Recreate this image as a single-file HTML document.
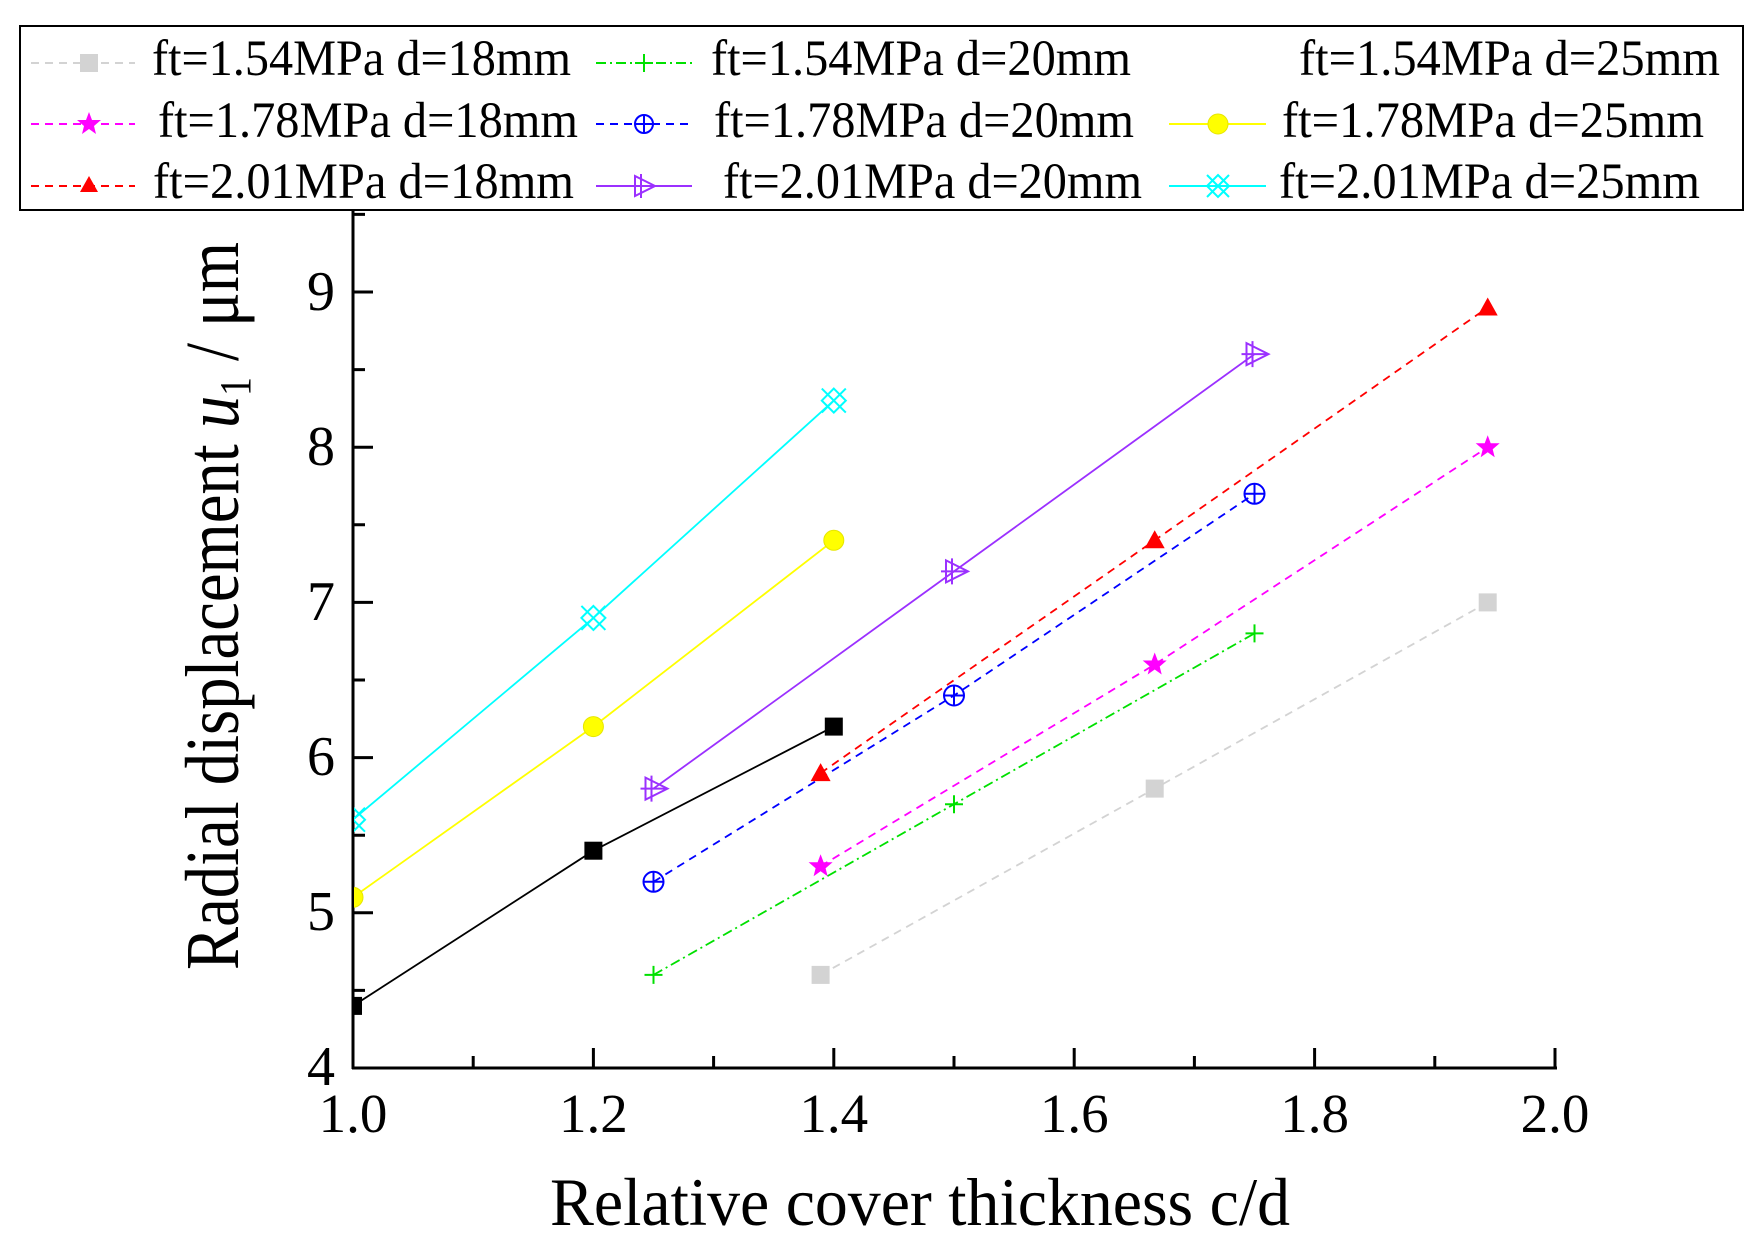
<!DOCTYPE html>
<html><head><meta charset="utf-8"><style>html,body{margin:0;padding:0;background:#fff}svg{display:block}text{font-family:"Liberation Serif",serif;fill:#000}</style></head><body>
<svg width="1764" height="1256" viewBox="0 0 1764 1256" xmlns="http://www.w3.org/2000/svg">
<defs>
<clipPath id="pc"><rect x="354" y="200" width="1300" height="880"/></clipPath>
<g id="msq"><rect x="-9" y="-9" width="18" height="18"/></g>
</defs>
<rect x="20" y="26" width="1723" height="184" fill="#fff" stroke="#000" stroke-width="2"/>
<g font-size="51">
<text x="152" y="75" textLength="419" lengthAdjust="spacingAndGlyphs">ft=1.54MPa d=18mm</text>
<text x="158" y="137" textLength="420" lengthAdjust="spacingAndGlyphs">ft=1.78MPa d=18mm</text>
<text x="153" y="198" textLength="421" lengthAdjust="spacingAndGlyphs">ft=2.01MPa d=18mm</text>
<text x="711" y="75" textLength="420" lengthAdjust="spacingAndGlyphs">ft=1.54MPa d=20mm</text>
<text x="714" y="137" textLength="420" lengthAdjust="spacingAndGlyphs">ft=1.78MPa d=20mm</text>
<text x="723" y="198" textLength="419" lengthAdjust="spacingAndGlyphs">ft=2.01MPa d=20mm</text>
<text x="1299" y="75" textLength="421" lengthAdjust="spacingAndGlyphs">ft=1.54MPa d=25mm</text>
<text x="1282" y="137" textLength="422" lengthAdjust="spacingAndGlyphs">ft=1.78MPa d=25mm</text>
<text x="1279" y="198" textLength="421" lengthAdjust="spacingAndGlyphs">ft=2.01MPa d=25mm</text>
</g>
<g stroke-width="2" fill="none">
<line x1="31" y1="63" x2="135" y2="63" stroke="#d3d3d3" stroke-dasharray="8,6"/>
<line x1="31" y1="124" x2="135" y2="124" stroke="#ff00ff" stroke-dasharray="8,6"/>
<line x1="31" y1="186" x2="135" y2="186" stroke="#ff0000" stroke-dasharray="8,6"/>
<line x1="596" y1="63" x2="692" y2="63" stroke="#00e000" stroke-dasharray="10,4,2,4"/>
<line x1="596" y1="124" x2="692" y2="124" stroke="#0000ff" stroke-dasharray="8,6"/>
<line x1="596" y1="186" x2="692" y2="186" stroke="#9b30ff"/>
<line x1="1169" y1="124" x2="1266" y2="124" stroke="#ffff00"/>
<line x1="1169" y1="186" x2="1266" y2="186" stroke="#00ffff"/>
</g>
<rect x="80" y="54" width="18" height="18" fill="#d3d3d3"/>
<polygon points="89,112 92,120 101,120 94,126 96,134 89,129 82,134 84,126 77,120 86,120" fill="#ff00ff"/>
<polygon points="89,176 98,192 80,192" fill="#ff0000"/>
<g stroke="#00e000" stroke-width="2"><line x1="635" y1="63" x2="653" y2="63"/><line x1="644" y1="54" x2="644" y2="72"/></g>
<g stroke="#0000ff" stroke-width="2" fill="none"><circle cx="644" cy="124" r="9"/><line x1="635" y1="124" x2="653" y2="124"/><line x1="644" y1="115" x2="644" y2="133"/></g>
<g stroke="#9b30ff" stroke-width="2" fill="none"><polygon points="635,176 655,186 635,196"/><line x1="641" y1="174" x2="641" y2="198"/><line x1="631" y1="186" x2="653" y2="186"/></g>
<circle cx="1218" cy="124" r="10" fill="#ffff00" stroke="#e6e600"/>
<g stroke="#00ffff" stroke-width="2" fill="none"><line x1="1207" y1="175" x2="1229" y2="197"/><line x1="1207" y1="197" x2="1229" y2="175"/><polygon points="1218,175 1229,186 1218,197 1207,186"/></g>

<g stroke="#000" stroke-width="3" fill="none">
<line x1="353" y1="211" x2="353" y2="1069"/>
<line x1="352" y1="1068" x2="1557" y2="1068"/>
<path d="M593.4,1068v-20 M833.8,1068v-20 M1074.2,1068v-20 M1314.6,1068v-20 M1555,1068v-20 M473.2,1068v-12 M713.6,1068v-12 M954,1068v-12 M1194.4,1068v-12 M1434.8,1068v-12"/>
<path d="M353,912.8h20 M353,757.6h20 M353,602.4h20 M353,447.2h20 M353,292h20 M353,990.4h12 M353,835.2h12 M353,680h12 M353,524.8h12 M353,369.6h12 M353,214.4h12"/>
</g>
<g font-size="56" text-anchor="end">
<text x="335" y="1085">4</text>
<text x="335" y="930">5</text>
<text x="335" y="775">6</text>
<text x="335" y="620">7</text>
<text x="335" y="465">8</text>
<text x="335" y="310">9</text>
</g>
<g font-size="55" text-anchor="middle">
<text x="353" y="1132">1.0</text>
<text x="593.4" y="1132">1.2</text>
<text x="833.8" y="1132">1.4</text>
<text x="1074.2" y="1132">1.6</text>
<text x="1314.6" y="1132">1.8</text>
<text x="1555" y="1132">2.0</text>
</g>
<text x="550" y="1225" font-size="68" textLength="740" lengthAdjust="spacingAndGlyphs">Relative cover thickness c/d</text>
<text transform="translate(238,970) rotate(-90)" font-size="76" textLength="728" lengthAdjust="spacingAndGlyphs">Radial displacement <tspan font-style="italic">u</tspan><tspan font-size="44" dy="12">1</tspan><tspan dy="-12"> / μm</tspan></text>

<g clip-path="url(#pc)">
<g fill="none" stroke-width="1.8">
<polyline points="820.6,974.9 1154.7,788.6 1487.7,602.4" stroke="#d3d3d3" stroke-dasharray="8,6"/>
<polyline points="653.5,974.9 954,804.2 1254.5,633.4" stroke="#00e000" stroke-dasharray="10,4,2,4"/>
<polyline points="353,1005.9 593.4,850.7 833.8,726.6" stroke="#000"/>
<polyline points="820.6,866.2 1154.7,664.5 1487.7,447.2" stroke="#ff00ff" stroke-dasharray="8,6"/>
<polyline points="653.5,881.8 954,695.5 1254.5,493.8" stroke="#0000ff" stroke-dasharray="8,6"/>
<polyline points="353,897.3 593.4,726.6 833.8,540.3" stroke="#ffff00"/>
<polyline points="820.6,773.1 1154.7,540.3 1487.7,307.5" stroke="#ff0000" stroke-dasharray="8,6"/>
<polyline points="653.5,788.6 954,571.4 1254.5,354.1" stroke="#9b30ff"/>
<polyline points="353,819.7 593.4,617.9 833.8,400.6" stroke="#00ffff"/>
</g>
<g fill="#d3d3d3"><use href="#msq" x="820.6" y="974.9"/><use href="#msq" x="1154.7" y="788.6"/><use href="#msq" x="1487.7" y="602.4"/></g>
<g fill="#000"><use href="#msq" x="353" y="1005.9"/><use href="#msq" x="593.4" y="850.7"/><use href="#msq" x="833.8" y="726.6"/></g>
<g stroke="#00e000" stroke-width="2">
<path d="M644.5,974.9h18M653.5,965.9v18 M945,804.2h18M954,795.2v18 M1245.5,633.4h18M1254.5,624.4v18"/>
</g>
<g fill="#ff00ff">
<polygon transform="translate(820.6,866.2)" points="0,-12 3,-4 12,-4 5,2 7,10 0,5 -7,10 -5,2 -12,-4 -3,-4"/>
<polygon transform="translate(1154.7,664.5)" points="0,-12 3,-4 12,-4 5,2 7,10 0,5 -7,10 -5,2 -12,-4 -3,-4"/>
<polygon transform="translate(1487.7,447.2)" points="0,-12 3,-4 12,-4 5,2 7,10 0,5 -7,10 -5,2 -12,-4 -3,-4"/>
</g>
<g stroke="#0000ff" stroke-width="2" fill="none">
<g transform="translate(653.5,881.8)"><circle r="10"/><path d="M-10,0h20M0,-10v20"/></g>
<g transform="translate(954,695.5)"><circle r="10"/><path d="M-10,0h20M0,-10v20"/></g>
<g transform="translate(1254.5,493.8)"><circle r="10"/><path d="M-10,0h20M0,-10v20"/></g>
</g>
<g fill="#ffff00" stroke="#e6e600">
<circle cx="353" cy="897.3" r="10"/><circle cx="593.4" cy="726.6" r="10"/><circle cx="833.8" cy="540.3" r="10"/>
</g>
<g fill="#ff0000">
<polygon transform="translate(820.6,773.1)" points="0,-10 10,8 -10,8"/>
<polygon transform="translate(1154.7,540.3)" points="0,-10 10,8 -10,8"/>
<polygon transform="translate(1487.7,307.5)" points="0,-10 10,8 -10,8"/>
</g>
<g stroke="#9b30ff" stroke-width="2" fill="none">
<g transform="translate(653.5,788.6)"><polygon points="-8,-11 14,0 -8,11"/><path d="M-2,-13v26M-13,0h26"/></g>
<g transform="translate(954,571.4)"><polygon points="-8,-11 14,0 -8,11"/><path d="M-2,-13v26M-13,0h26"/></g>
<g transform="translate(1254.5,354.1)"><polygon points="-8,-11 14,0 -8,11"/><path d="M-2,-13v26M-13,0h26"/></g>
</g>
<g stroke="#00ffff" stroke-width="2" fill="none">
<g transform="translate(353,819.7)"><path d="M-12,-12L12,12M-12,12L12,-12"/><polygon points="0,-12 12,0 0,12 -12,0"/></g>
<g transform="translate(593.4,617.9)"><path d="M-12,-12L12,12M-12,12L12,-12"/><polygon points="0,-12 12,0 0,12 -12,0"/></g>
<g transform="translate(833.8,400.6)"><path d="M-12,-12L12,12M-12,12L12,-12"/><polygon points="0,-12 12,0 0,12 -12,0"/></g>
</g>
</g>
</svg>
</body></html>
